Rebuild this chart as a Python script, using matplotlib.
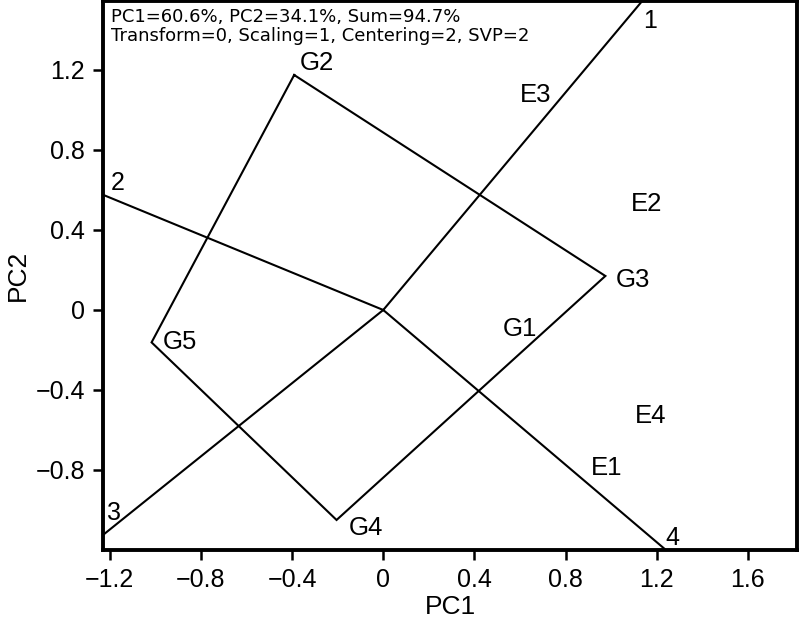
import numpy as np
import matplotlib
matplotlib.use("Agg")
import matplotlib.pyplot as plt

# genotype scores (PC1, PC2)
genotypes = ["G1", "G2", "G3", "G4", "G5"]
gen_pc1 = [0.487, -0.391, 0.975, -0.205, -1.017]
gen_pc2 = [-0.085, 1.175, 0.170, -1.050, -0.162]

# environment scores
environments = ["E1", "E2", "E3", "E4"]
env_pc1 = [0.979, 1.156, 0.670, 1.173]
env_pc2 = [-0.780, 0.543, 1.088, -0.520]

# polygon vertices (convex hull), in drawing order
hull = ["G2", "G3", "G4", "G5"]
# sector lines: number -> hull edge it is perpendicular to
sector_names = ["1", "2", "3", "4"]
sector_edges = [("G2", "G3"), ("G5", "G2"), ("G4", "G5"), ("G3", "G4")]

xticks = [-1.2, -0.8, -0.4, 0, 0.4, 0.8, 1.2, 1.6]
xticklabels = ["\u22121.2", "\u22120.8", "\u22120.4", "0", "0.4", "0.8", "1.2", "1.6"]
yticks = [-0.8, -0.4, 0, 0.4, 0.8, 1.2]
yticklabels = ["\u22120.8", "\u22120.4", "0", "0.4", "0.8", "1.2"]

header1 = "PC1=60.6%, PC2=34.1%, Sum=94.7%"
header2 = "Transform=0, Scaling=1, Centering=2, SVP=2"

plt.rcParams['font.family'] = ['Liberation Sans', 'DejaVu Sans']

xmin, xmax = -1.229, 1.816
ymin, ymax = -1.2, 1.545

fig = plt.figure(figsize=(8, 6.19), dpi=100)
ax = fig.add_axes([0.1291, 0.1115, 0.8671, 0.8869])

pos = {g: np.array([x, y]) for g, x, y in zip(genotypes, gen_pc1, gen_pc2)}

# polygon
poly = np.array([pos[g] for g in hull + [hull[0]]])
ax.plot(poly[:, 0], poly[:, 1], color="black", lw=1.5, solid_joinstyle="miter")

# sector lines: from origin through the foot of the perpendicular on each edge
sec_offsets = [(8, -27), (14, 5), (11, 15), (6, 5)]
for name, (a, b), off in zip(sector_names, sector_edges, sec_offsets):
    pa, pb = pos[a], pos[b]
    e = pb - pa
    foot = pa + (-pa @ e) / (e @ e) * e
    d = foot / np.linalg.norm(foot)
    ts = []
    ts.append((xmax if d[0] > 0 else xmin) / d[0])
    ts.append((ymax if d[1] > 0 else ymin) / d[1])
    end = d * min(ts)
    ax.plot([0, end[0]], [0, end[1]], color="black", lw=1.5, clip_on=False)
    ax.annotate(name, xy=end, xytext=off, textcoords="offset pixels",
                ha="center", va="baseline", fontsize=18)

# genotype labels
gen_offsets = [(9, -9), (6, 5), (10, -11), (12, -15), (11, -7)]
for g, x, y, off in zip(genotypes, gen_pc1, gen_pc2, gen_offsets):
    ax.annotate(g, xy=(x, y), xytext=off, textcoords="offset pixels",
                ha="left", va="baseline", fontsize=18.5)

# environment labels
for e, x, y in zip(environments, env_pc1, env_pc2):
    ax.annotate(e, xy=(x, y), xytext=(0, -9.5), textcoords="offset pixels",
                ha="center", va="baseline", fontsize=18.5)

ax.set_xlim(xmin, xmax)
ax.set_ylim(ymin, ymax)
ax.set_xticks(xticks)
ax.set_xticklabels(xticklabels)
ax.set_yticks(yticks)
ax.set_yticklabels(yticklabels)
ax.tick_params(direction="out", length=7, width=1.8, labelsize=18, pad=6)
for sp in ax.spines.values():
    sp.set_linewidth(2.8)

ax.set_xlabel("PC1", fontsize=19, labelpad=2)
ax.set_ylabel("PC2", fontsize=19, labelpad=4)

fig.text(111 / 800, 1 - 22.5 / 619, header1, fontsize=13, family="DejaVu Sans", va="baseline")
fig.text(111 / 800, 1 - 41 / 619, header2, fontsize=13, family="DejaVu Sans", va="baseline")

fig.savefig("out.png", dpi=100)
